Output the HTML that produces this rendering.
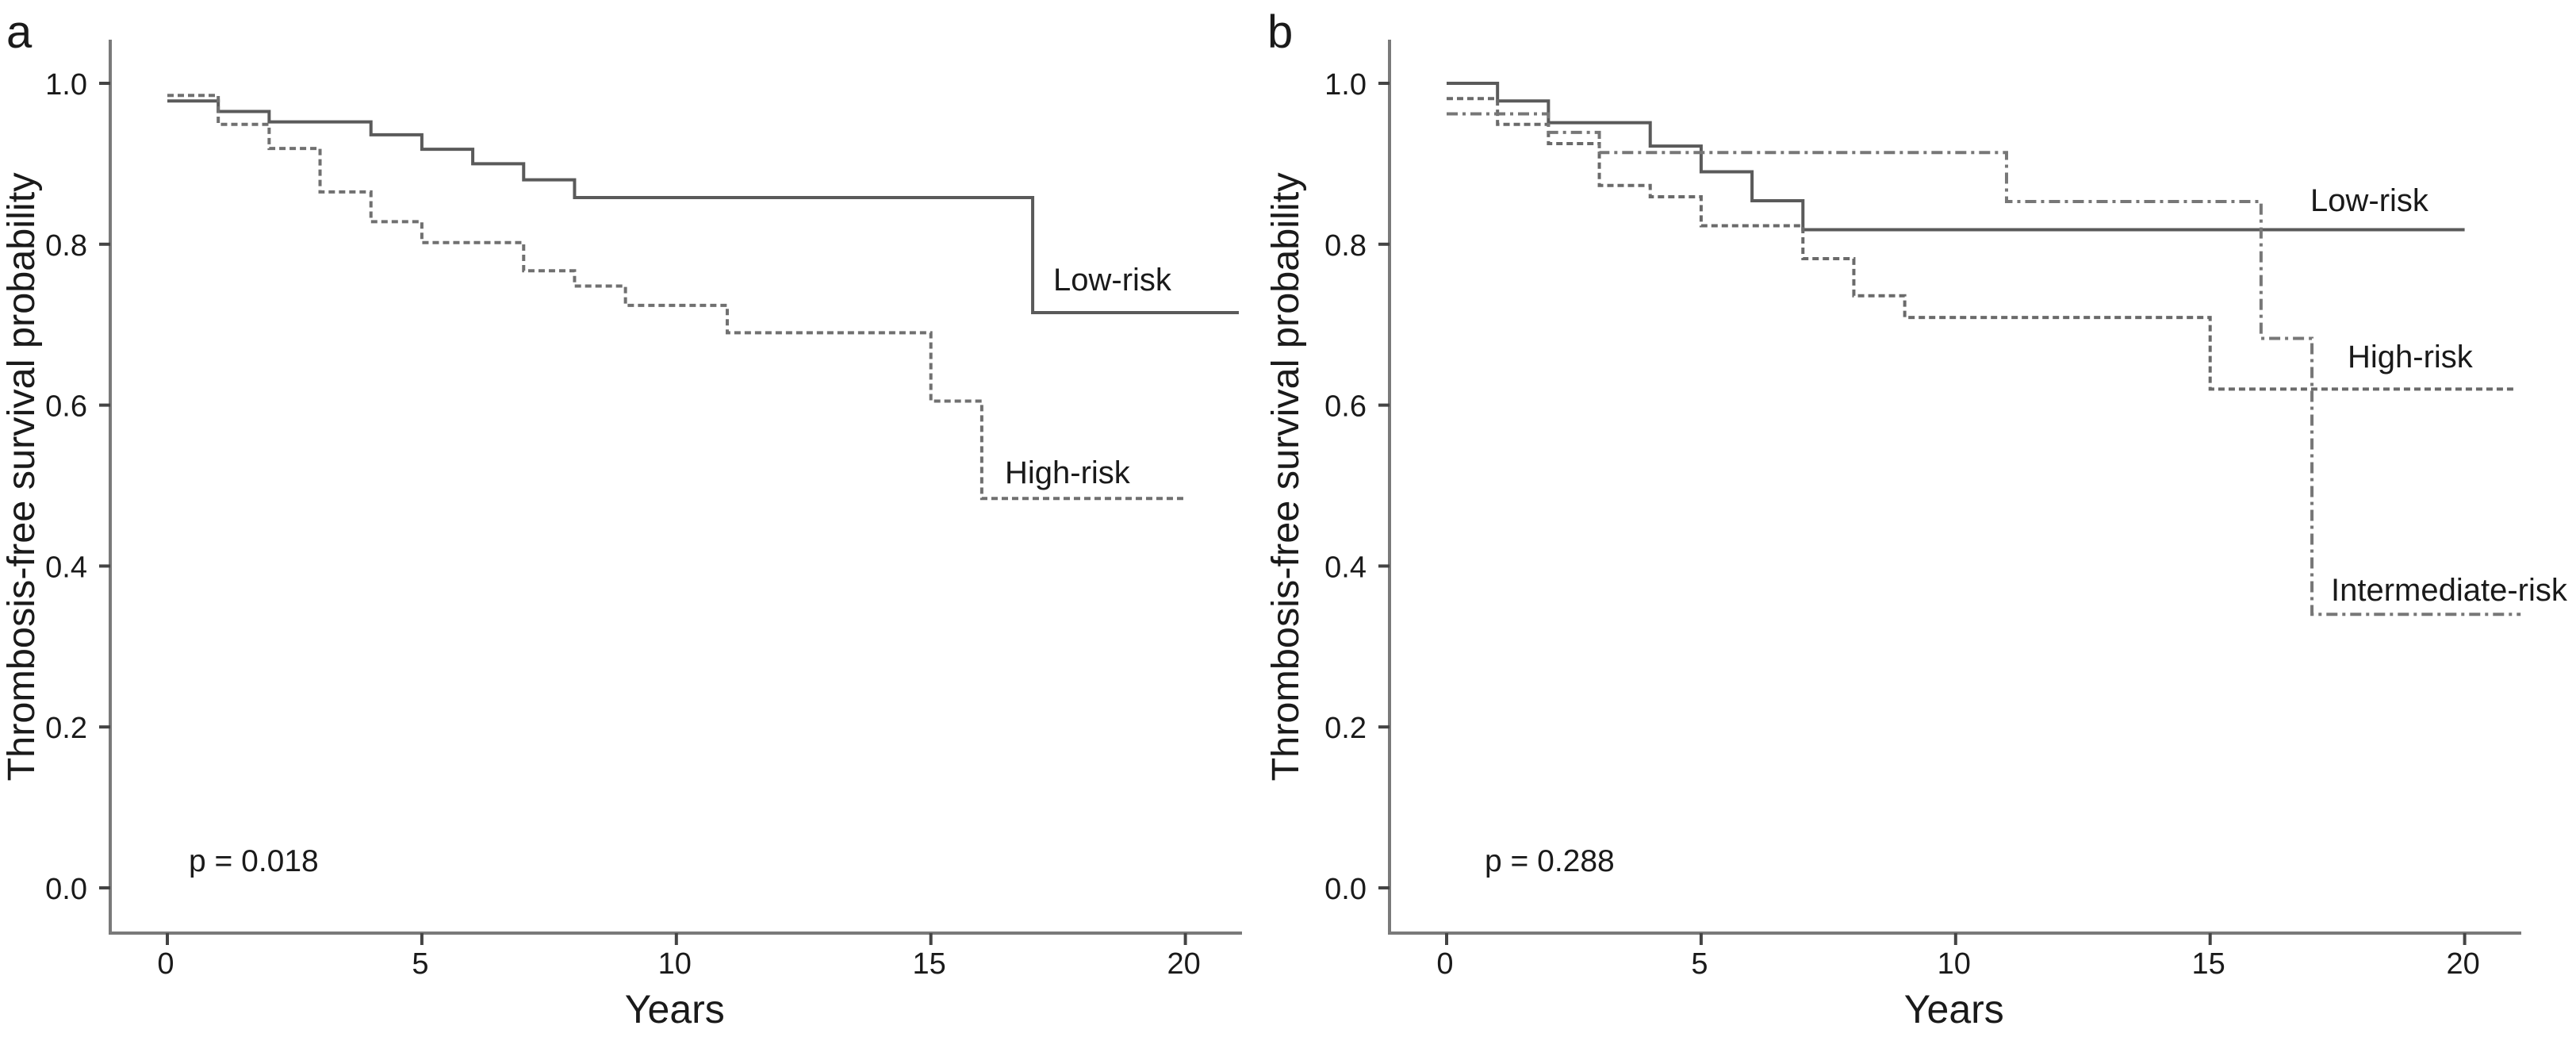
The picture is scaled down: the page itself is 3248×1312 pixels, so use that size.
<!DOCTYPE html>
<html><head><meta charset="utf-8"><style>
html,body{margin:0;padding:0;background:#fff;}
svg{display:block;}
text{font-family:"Liberation Sans",Arial,sans-serif;fill:#1a1a1a;}
</style></head><body>
<svg id="fig" width="3248" height="1312" viewBox="0 0 3248 1312" xmlns="http://www.w3.org/2000/svg"></svg>
<script>
// Panel a data
const aLowTimes = [0, 1, 2, 4, 5, 6, 7, 8, 17];
const aLowSurv = [0.978, 0.965, 0.952, 0.936, 0.918, 0.900, 0.880, 0.858, 0.715];
const aLowEnd = 21.05;
const aHighTimes = [0, 1, 2, 3, 4, 5, 7, 8, 9, 11, 15, 16];
const aHighSurv = [0.985, 0.949, 0.919, 0.865, 0.828, 0.802, 0.767, 0.748, 0.724, 0.690, 0.605, 0.484];
const aHighEnd = 20;
// Panel b data
const bLowTimes = [0, 1, 2, 4, 5, 6, 7];
const bLowSurv = [1.0, 0.978, 0.951, 0.922, 0.890, 0.854, 0.818];
const bLowEnd = 20;
const bHighTimes = [0, 1, 2, 3, 4, 5, 7, 8, 9, 15];
const bHighSurv = [0.981, 0.949, 0.925, 0.873, 0.859, 0.823, 0.782, 0.736, 0.709, 0.620];
const bHighEnd = 21;
const bIntTimes = [0, 2, 3, 11, 16, 17];
const bIntSurv = [0.962, 0.939, 0.914, 0.853, 0.683, 0.340];
const bIntEnd = 21.1;
const xTicks = [0, 5, 10, 15, 20];
const yTicks = [0.0, 0.2, 0.4, 0.6, 0.8, 1.0];
const yTickLabels = ["0.0", "0.2", "0.4", "0.6", "0.8", "1.0"];

const NS = "http://www.w3.org/2000/svg";
const svg = document.getElementById('fig');
function mk(tag, attrs, parent) {
  const e = document.createElementNS(NS, tag);
  for (const k in attrs) e.setAttribute(k, attrs[k]);
  (parent || svg).appendChild(e);
  return e;
}
function yScale(v) { return 1119 - 1014 * v; }

function panel(cfg) {
  const g = mk('g', {});
  
  
  const xs = t => cfg.x0 + 64.18 * t;
  // axes
  const ya = mk('line', {x1: cfg.ax, y1: 50, x2: cfg.ax, y2: 1177, stroke: '#7a7a7a', 'stroke-width': 4}, g);
  
  
  const xa = mk('line', {x1: cfg.ax - 2, y1: 1176, x2: cfg.axEnd, y2: 1176, stroke: '#7a7a7a', 'stroke-width': 4}, g);
  
  
  yTicks.forEach((v, i) => {
    const y = yScale(v);
    const t = mk('line', {x1: cfg.ax - 14, y1: y, x2: cfg.ax, y2: y, stroke: '#444', 'stroke-width': 4}, g);
    
    
    const l = mk('text', {x: cfg.ax - 29, y: y + 14, 'font-size': 38, 'text-anchor': 'end'}, g);
    l.textContent = yTickLabels[i];
    
    
  });
  xTicks.forEach(v => {
    const x = xs(v);
    const t = mk('line', {x1: x, y1: 1176, x2: x, y2: 1191, stroke: '#444', 'stroke-width': 4}, g);
    
    
    const l = mk('text', {x: x - 2, y: 1227, 'font-size': 38, 'text-anchor': 'middle'}, g);
    l.textContent = String(v);
    
    
  });
  // series
  cfg.series.forEach(s => {
    let d = '';
    s.times.forEach((t, i) => {
      const x = xs(t), y = yScale(s.surv[i]);
      if (i === 0) d += 'M' + x + ' ' + y;
      else d += ' V' + y;
      const nx = i + 1 < s.times.length ? xs(s.times[i + 1]) : xs(s.end);
      d += ' H' + nx;
    });
    const p = mk('path', {d: d, fill: 'none', stroke: s.color, 'stroke-width': 4, 'stroke-dasharray': s.dash}, g);
    
    
    const l = mk('text', {x: s.lx, y: s.ly, 'font-size': 40}, g);
    l.textContent = s.label;
    
    
  });
  // titles
  const yt = mk('text', {x: 0, y: 0, 'font-size': 48, 'text-anchor': 'middle', transform: 'translate(' + cfg.ytx + ',601) rotate(-90)', textLength: 767, lengthAdjust: 'spacingAndGlyphs'}, g);
  yt.textContent = 'Thrombosis-free survival probability';
  
  
  const xt = mk('text', {x: cfg.x0 + 64.18 * 10 - 2, y: 1289, 'font-size': 50, 'text-anchor': 'middle'}, g);
  xt.textContent = 'Years';
  
  
  const pv = mk('text', {x: cfg.px, y: 1098, 'font-size': 39}, g);
  pv.textContent = cfg.p;
  
  
  const pl = mk('text', {x: cfg.letterX, y: 60, 'font-size': 58}, g);
  pl.textContent = cfg.letter;
  
  
}

panel({
  name: 'panel-a', x0: 211, ax: 139, axEnd: 1566, ytx: 43, px: 238, p: 'p = 0.018', letter: 'a', letterX: 8,
  series: [
    {name: 'low-risk-curve', times: aLowTimes, surv: aLowSurv, end: aLowEnd, color: '#5a5a5a', dash: 'none', label: 'Low-risk', lx: 1328, ly: 366},
    {name: 'high-risk-curve', times: aHighTimes, surv: aHighSurv, end: aHighEnd, color: '#707070', dash: '8 5', label: 'High-risk', lx: 1267, ly: 609}
  ]
});
panel({
  name: 'panel-b', x0: 1824, ax: 1752, axEnd: 3179, ytx: 1637, px: 1872, p: 'p = 0.288', letter: 'b', letterX: 1598,
  series: [
    {name: 'low-risk-curve', times: bLowTimes, surv: bLowSurv, end: bLowEnd, color: '#5a5a5a', dash: 'none', label: 'Low-risk', lx: 2913, ly: 266},
    {name: 'high-risk-curve', times: bHighTimes, surv: bHighSurv, end: bHighEnd, color: '#6a6a6a', dash: '8 5', label: 'High-risk', lx: 2960, ly: 463},
    {name: 'intermediate-risk-curve', times: bIntTimes, surv: bIntSurv, end: bIntEnd, color: '#777777', dash: '14 6 4 6', label: 'Intermediate-risk', lx: 2939, ly: 757}
  ]
});
</script>
</body></html>
